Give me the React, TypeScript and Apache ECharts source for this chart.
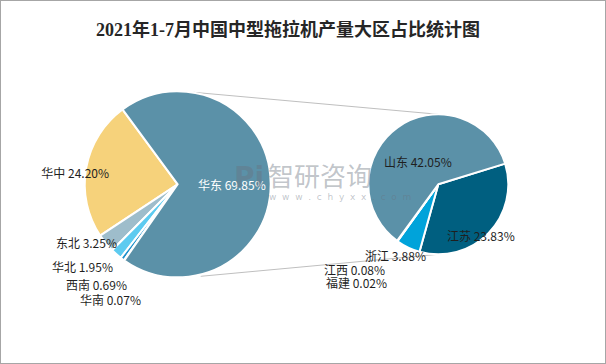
import React, { useEffect, useRef } from "react";
import * as echarts from "echarts";

const titleText = "2021年1-7月中国中型拖拉机产量大区占比统计图";

const mainNames = ["华中", "东北", "华北", "西南", "华南", "华东"];
const mainValues = [24.2, 3.25, 1.95, 0.69, 0.07, 69.85];
const mainColors = ["#F6D27B", "#9EBDCB", "#5DCBF0", "#1A8FCB", "#0B6E9E", "#5B91A8"];

const subNames = ["江苏", "浙江", "江西", "福建", "山东"];
const subValues = [23.83, 3.88, 0.08, 0.02, 42.05];
const subColors = ["#005F80", "#00A3DA", "#2E7FA6", "#3A6F8A", "#5B91A8"];

// label anchor positions [x, y, align]
const mainLabelPos: [number, number, string][] = [
  [108, 171, "right"],
  [116, 241, "right"],
  [112, 265, "right"],
  [126, 283, "right"],
  [140, 298, "right"],
  [197, 183, "left"],
];
const subLabelPos: [number, number, string][] = [
  [446, 234, "left"],
  [425, 254, "right"],
  [323, 268, "left"],
  [325, 281, "left"],
  [383, 160, "left"],
];

const C1 = [176.7, 183.3];
const R1 = 93;
const C2 = [437.3, 183.3];
const R2 = 70;

export default function App() {
  const ref = useRef<HTMLDivElement>(null);
  useEffect(() => {
    if (!ref.current) return;
    const chart = echarts.init(ref.current, undefined, { renderer: "svg" });
    const fmt = (p: any) => `${p.name} ${Number(p.value).toFixed(2)}%`;
    const labelFont = '"Noto Sans CJK SC", "Noto Sans", sans-serif';
    const wmFill = "rgba(105,115,128,0.42)";
    chart.setOption({
      animation: false,
      backgroundColor: "#ffffff",
      title: {
        text: titleText,
        left: 90,
        top: 15,
        textStyle: {
          fontSize: 18,
          fontWeight: "bold",
          color: "#262626",
          fontFamily: '"Liberation Serif", "DejaVu Serif", "Noto Sans CJK SC", serif',
        },
      },
      graphic: [
        {
          type: "line",
          silent: true,
          shape: { x1: C1[0] + 16, y1: C1[1] - R1 + 1, x2: C2[0], y2: C2[1] - R2 },
          style: { stroke: "#BFBFBF", lineWidth: 1 },
          z: 1,
        },
        {
          type: "line",
          silent: true,
          shape: { x1: C1[0] + 23, y1: C1[1] + R1 - 1, x2: C2[0], y2: C2[1] + R2 },
          style: { stroke: "#BFBFBF", lineWidth: 1 },
          z: 1,
        },
        {
          type: "text",
          silent: true,
          left: 233,
          top: 162,
          style: {
            text: "Pi",
            fontSize: 28,
            fontWeight: "bold",
            fontFamily: '"DejaVu Sans", sans-serif',
            fill: wmFill,
          },
          z: 100,
        },
        {
          type: "text",
          silent: true,
          left: 267,
          top: 160,
          style: {
            text: "智研咨询",
            fontSize: 26,
            fontFamily: labelFont,
            fill: wmFill,
          },
          z: 100,
        },
        {
          type: "text",
          silent: true,
          left: 268,
          top: 191,
          style: {
            text: "w  w  w  .  c  h  y  x  x  .  c  o  m",
            fontSize: 9,
            lineHeight: 9,
            fontFamily: '"DejaVu Sans", sans-serif',
            fill: wmFill,
          },
          z: 100,
        },
      ],
      series: [
        {
          type: "pie",
          center: C1,
          radius: R1,
          startAngle: 126.4,
          clockwise: false,
          silent: true,
          avoidLabelOverlap: false,
          itemStyle: { borderColor: "#ffffff", borderWidth: 2 },
          label: {
            show: true,
            position: "outside",
            formatter: fmt,
            fontSize: 12,
            lineHeight: 12,
            fontFamily: labelFont,
            color: "#1F1F1F",
          },
          labelLine: { show: false },
          labelLayout: (p: any) => {
            const q = mainLabelPos[p.dataIndex];
            return { x: q[0], y: q[1], align: q[2], verticalAlign: "middle" };
          },
          data: mainNames.map((n, i) => ({
            name: n,
            value: mainValues[i],
            itemStyle: { color: mainColors[i] },
            label: n === "华东" ? { color: "#ffffff" } : undefined,
          })),
        },
        {
          type: "pie",
          center: C2,
          radius: R2,
          startAngle: 17.2,
          clockwise: true,
          silent: true,
          avoidLabelOverlap: false,
          itemStyle: { borderColor: "#ffffff", borderWidth: 2 },
          label: {
            show: true,
            position: "outside",
            formatter: fmt,
            fontSize: 12,
            lineHeight: 12,
            fontFamily: labelFont,
            color: "#1F1F1F",
          },
          labelLine: { show: false },
          labelLayout: (p: any) => {
            const q = subLabelPos[p.dataIndex];
            return { x: q[0], y: q[1], align: q[2], verticalAlign: "middle" };
          },
          data: subNames.map((n, i) => ({
            name: n,
            value: subValues[i],
            itemStyle: { color: subColors[i] },
          })),
        },
      ],
    });
    return () => chart.dispose();
  }, []);
  return (
    <div
      ref={ref}
      style={{
        position: "fixed",
        left: 0,
        top: 0,
        width: 606,
        height: 364,
        boxSizing: "border-box",
        border: "1px solid #A6A6A6",
        background: "#fff",
      }}
    />
  );
}
